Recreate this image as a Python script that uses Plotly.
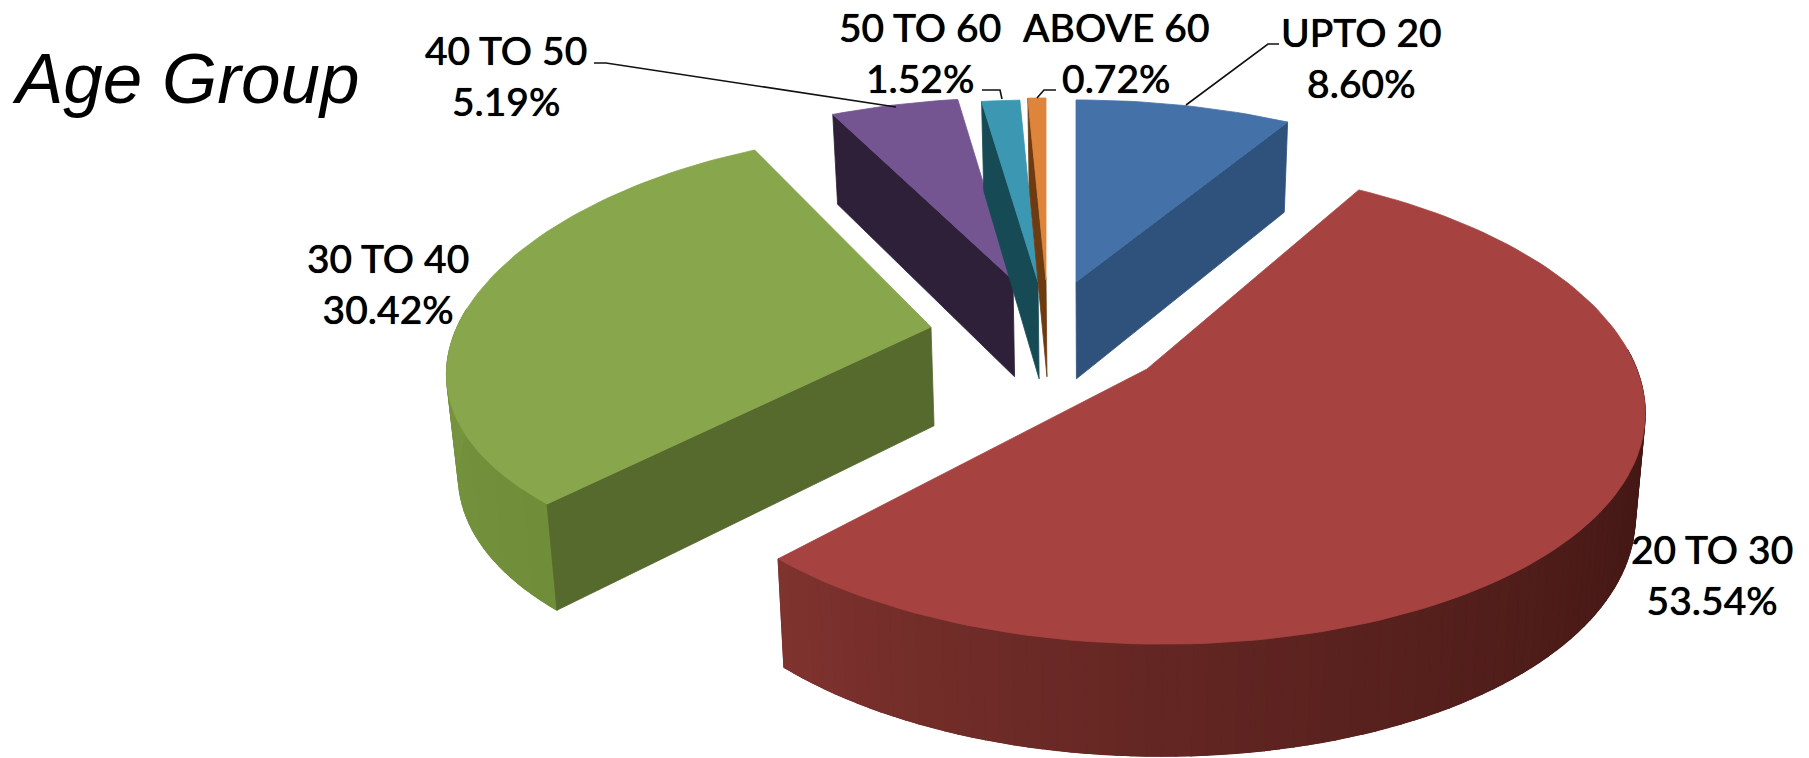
import math
import plotly.graph_objects as go

# ---- data ----
categories = ["UPTO 20", "20 TO 30", "30 TO 40", "40 TO 50", "50 TO 60", "ABOVE 60"]
shares = [8.60, 53.54, 30.42, 5.19, 1.52, 0.72]
share_labels = ["8.60%", "53.54%", "30.42%", "5.19%", "1.52%", "0.72%"]

# ---- exploded-pie styling ----
explode_x = [27, 98, -118, -36, -11, -3]
explode_y = [-49, 38, -4, -51, -49, -51]
scale_x = [483, 470, 468, 473, 483, 483]
scale_y = [219, 235, 221.6, 219, 219, 219]
persp_x = [0.203, 0.165, 0.218, 0.203, 0.203, 0.203]
persp_y = [0.203, 0.146, 0.132, 0.203, 0.203, 0.203]
bulge = [0, 24, -6, 0, 0, 0]
top_colors = ["#4471A8", "#A64341", "#88A64B", "#745592", "#3C97B3", "#DE843B"]
wall_colors = ["#2F527C", "#5A2523", "#566A2E", "#2E2039", "#164B56", "#6E3B11"]
arc_dark = {1: (66, 23, 20), 2: (112, 142, 58)}
arc_light = {1: (128, 51, 47), 2: (122, 152, 66)}
label_pos = [(1361, 57), (1712, 574), (388, 283), (506, 75), (920, 52), (1116, 52)]
leaders = {
    0: ([1279, 1268, 1186], [44, 44, 105]),
    3: ([594, 606, 896], [63, 63, 107]),
    4: ([982, 1000, 1002], [90, 90, 99]),
    5: ([1056, 1044, 1037], [90, 90, 98]),
}

W, H = 1809, 758
CX, CY = 1049, 331


def project(apex, theta, i, t0, t1):
    X, Y = math.sin(theta), math.cos(theta)
    bump = bulge[i] * math.sin(math.pi * (theta - t0) / (t1 - t0))
    return (apex[0] + scale_x[i] * X / (1 + persp_x[i] * Y) + bump,
            apex[1] - scale_y[i] * Y / (1 + persp_y[i] * Y))


def drop(pt):
    # the same point on the lower face of the pie
    return pt[0] + 0.018 * (1100 - pt[0]), pt[1] + 85 + 0.042 * pt[1]


def poly(points, color, name, width=0.8):
    xs = [p[0] for p in points] + [points[0][0]]
    ys = [p[1] for p in points] + [points[0][1]]
    return go.Scatter(x=xs, y=ys, mode="lines", fill="toself", fillcolor=color,
                      line=dict(color=color, width=width), name=name,
                      hoverinfo="skip", showlegend=False)


def mix(i, u):
    return "rgb(%d,%d,%d)" % tuple(
        round(arc_dark[i][j] + (arc_light[i][j] - arc_dark[i][j]) * u) for j in range(3))


fig = go.Figure()
total = sum(shares)
start = 0.0
for i, (cat, val) in enumerate(zip(categories, shares)):
    t0 = start
    t1 = start + val / total * 2 * math.pi
    start = t1
    apex = (CX + explode_x[i], CY + explode_y[i])
    n = max(4, int((t1 - t0) / math.radians(1.5)))
    thetas = [t0 + (t1 - t0) * k / n for k in range(n + 1)]
    rim = [project(apex, t, i, t0, t1) for t in thetas]

    # outer wall, front part only: a solid underlay, then the shading on it
    if i in arc_dark:
        front = [k for k in range(n + 1) if math.cos(thetas[k]) < 0.1]
        band = [rim[k] for k in front] + [drop(rim[k]) for k in reversed(front)]
        fig.add_trace(poly(band, mix(i, 0.4), cat))
        for k in front[:-1]:
            if i == 1:
                u = max(0.0, (thetas[k] - math.pi / 2) / (t1 - math.pi / 2)) ** 1.5
            else:
                u = min(1.0, (thetas[k] - t0) / (math.pi / 2 - 0.4))
            fig.add_trace(poly([rim[k], rim[k + 1], drop(rim[k + 1]), drop(rim[k])], mix(i, u), cat, 1.2))

    # radial walls that face the viewer
    if i == 0:
        edge = rim[-1]
    elif i == 1:
        edge = None
    else:
        edge = rim[0]
    if edge is not None:
        fig.add_trace(poly([apex, edge, drop(edge), drop(apex)], wall_colors[i], cat))

    # top face
    fig.add_trace(poly([apex] + rim, top_colors[i], cat))

# leader lines
for idx, (lx, ly) in leaders.items():
    fig.add_trace(go.Scatter(x=lx, y=ly, mode="lines", line=dict(color="#111111", width=1.6),
                             hoverinfo="skip", showlegend=False))

# labels
for cat, lab, (lx, ly) in zip(categories, share_labels, label_pos):
    fig.add_annotation(x=lx, y=ly, text=cat + "<br>" + lab, showarrow=False, xanchor="center",
                       yanchor="middle", align="center",
                       font=dict(family="Lato", size=39, color="#000000", weight=500,
                                 shadow="0 0 0.8px #000000"))

fig.add_annotation(x=10, y=78, text="<i>Age Group</i>", showarrow=False, xanchor="left",
                   yanchor="middle", font=dict(family="Liberation Sans", size=71, color="#000000"))

fig.update_layout(width=W, height=H, margin=dict(l=0, r=0, t=0, b=0),
                  paper_bgcolor="white", plot_bgcolor="white", showlegend=False,
                  xaxis=dict(range=[0, W], visible=False, fixedrange=True),
                  yaxis=dict(range=[H, 0], visible=False, fixedrange=True))
fig.write_html("out.html", config={"displayModeBar": False},
               post_script="document.body.style.margin='0';")
